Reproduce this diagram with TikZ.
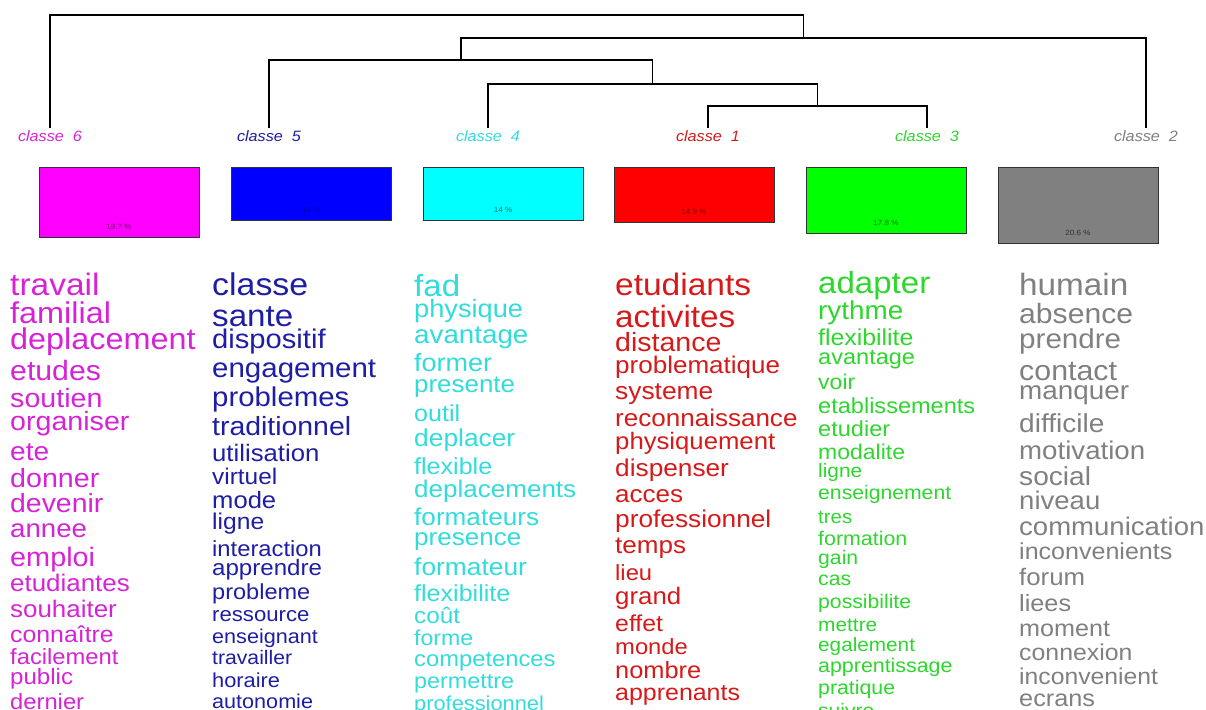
\documentclass[tikz,border=0pt]{standalone}
\usepackage{fontspec}
\setmainfont[FakeStretch=1.08]{Liberation Sans}
\usetikzlibrary{positioning}

% box fills and word colours, one per class
\definecolor{c6}{RGB}{255,0,255}
\definecolor{c5}{RGB}{0,0,255}
\definecolor{c4}{RGB}{0,255,255}
\definecolor{c1}{RGB}{255,0,0}
\definecolor{c3}{RGB}{0,255,0}
\definecolor{c2}{RGB}{128,128,128}
\definecolor{w6}{RGB}{215,35,215}
\definecolor{w5}{RGB}{30,30,165}
\definecolor{w4}{RGB}{50,220,220}
\definecolor{w1}{RGB}{215,25,25}
\definecolor{w3}{RGB}{45,215,45}
\definecolor{w2}{RGB}{128,128,128}

\tikzset{
  leg/.style={line width=1.2pt},
  lbl/.style={font=\fontsize{15}{15}\selectfont\itshape, inner sep=0pt},
  bar/.style={draw=black!80, line width=0.9pt, fill=#1, minimum width=160pt, anchor=north, inner sep=0pt},
  pct/.style={font=\fontsize{7.5}{8}\selectfont, inner sep=0pt},
  word/.style={anchor=base west, inner sep=0pt}
}

\begin{document}
\begin{tikzpicture}[x=1pt,y=-1pt]
  \fill[white] (0,0) rectangle (1206,709);
  \clip (0,0) rectangle (1206,709);

  % leaf tops of the tree
  \coordinate (t6) at (50,128);
  \coordinate (t5) at (269,128);
  \coordinate (t4) at (488,128);
  \coordinate (t1) at (708,128);
  \coordinate (t3) at (927,128);
  \coordinate (t2) at (1146,128);

  % merge heights
  \coordinate (n13) at (817.5,106);
  \coordinate (n413) at (652.75,84);
  \coordinate (n5) at (461,60);
  \coordinate (n2) at (803.5,38);
  \coordinate (root) at (426.75,15);

  % dendrogram
  \draw[leg] (t1) |- (n13) -| (t3);
  \draw[leg] (t4) |- (n413) -| (n13);
  \draw[leg] (t5) |- (n5) -| (n413);
  \draw[leg] (n5) |- (n2) -| (t2);
  \draw[leg] (t6) |- (root) -| (n2);

  % class names
  \node[lbl, text=w6, below=2pt of t6] (l6) {classe\ \ 6};
  \node[lbl, text=w5, below=2pt of t5] (l5) {classe\ \ 5};
  \node[lbl, text=w4, below=2pt of t4] (l4) {classe\ \ 4};
  \node[lbl, text=w1, below=2pt of t1] (l1) {classe\ \ 1};
  \node[lbl, text=w3, below=2pt of t3] (l3) {classe\ \ 3};
  \node[lbl, text=w2, below=2pt of t2] (l2) {classe\ \ 2};

  % class sizes
  \node[bar=c6, minimum height=70pt] (b6) at (119,167) {};
  \node[bar=c5, minimum height=53pt] (b5) at (311,167) {};
  \node[bar=c4, minimum height=53pt] (b4) at (503,167) {};
  \node[bar=c1, minimum height=55pt] (b1) at (694,167) {};
  \node[bar=c3, minimum height=66pt] (b3) at (886,167) {};
  \node[bar=c2, minimum height=76pt] (b2) at (1078,167) {};
  \node[pct, text=c6!45!black, above=8pt of b6.south] (p6) {18.7 \%};
  \node[pct, text=c5!55!black, above=8pt of b5.south] (p5) {14 \%};
  \node[pct, text=c4!45!black, above=8pt of b4.south] (p4) {14 \%};
  \node[pct, text=c1!45!black, above=8pt of b1.south] (p1) {14.9 \%};
  \node[pct, text=c3!45!black, above=8pt of b3.south] (p3) {17.8 \%};
  \node[pct, text=c2!40!black, above=8pt of b2.south] (p2) {20.6 \%};

  % classe 6 words
  \foreach \w/\s/\y [count=\i] in {travail/31/295, familial/30/323, deplacement/30/349,
      etudes/28/380, soutien/26.5/407, organiser/26.5/430, ete/26/460, donner/26.5/487,
      devenir/26.3/512, annee/25.6/537, emploi/26.7/566, etudiantes/24/591,
      souhaiter/24/617, connaître/23/642, facilement/22/664, public/22.3/684, dernier/22/709}
    \node[word, text=w6, font=\fontsize{\s}{\s}\selectfont] (w6-\i) at (10,\y) {\w};

  % classe 5 words
  \foreach \w/\s/\y [count=\i] in {classe/31.4/295, sante/30.7/326, dispositif/27/348,
      engagement/27.3/377, problemes/27.2/406, traditionnel/26.3/435, utilisation/23.8/461,
      virtuel/22.6/484, mode/23.7/508, ligne/22.8/529, interaction/22/556, apprendre/22.3/575,
      probleme/21.8/599, ressource/20.5/621, enseignant/20/643, travailler/19.6/664,
      horaire/20.2/687, autonomie/20/708}
    \node[word, text=w5, font=\fontsize{\s}{\s}\selectfont] (w5-\i) at (212,\y) {\w};

  % classe 4 words
  \foreach \w/\s/\y [count=\i] in {fad/30.6/296, physique/25.2/317, avantage/25.7/343,
      former/25/371, presente/24/392, outil/23.2/421, deplacer/24.4/446, flexible/23.2/474,
      deplacements/24.1/497, formateurs/24.2/525, presence/24.1/545, formateur/24.4/575,
      flexibilite/23.2/601, coût/22.5/623, forme/21.4/645, competences/22/666,
      permettre/21.6/688, professionnel/20.2/710}
    \node[word, text=w4, font=\fontsize{\s}{\s}\selectfont] (w4-\i) at (414,\y) {\w};

  % classe 1 words
  \foreach \w/\s/\y [count=\i] in {etudiants/31/295, activites/30.8/327, distance/26.4/351,
      problematique/24.1/373, systeme/24.4/399, reconnaissance/24.1/426, physiquement/23.8/449,
      dispenser/24.3/476, acces/24.1/502, professionnel/24.3/527, temps/24.1/553, lieu/22/580,
      grand/23.9/604, effet/23/631, monde/22/654, nombre/23.5/678, apprenants/23.1/700}
    \node[word, text=w1, font=\fontsize{\s}{\s}\selectfont] (w1-\i) at (615,\y) {\w};

  % classe 3 words
  \foreach \w/\s/\y [count=\i] in {adapter/30.6/293, rythme/25.8/319, flexibilite/23/345,
      avantage/21.8/364, voir/21.3/389, etablissements/21.8/413, etudier/21.8/436,
      modalite/21.3/459, ligne/19.3/477, enseignement/19.6/499, tres/18.9/523,
      formation/19.8/545, gain/19.6/564, cas/19.6/585, possibilite/19.6/608, mettre/19.3/631,
      egalement/19.2/651, apprentissage/19.8/672, pratique/19.7/694, suivre/19.5/717}
    \node[word, text=w3, font=\fontsize{\s}{\s}\selectfont] (w3-\i) at (818,\y) {\w};

  % classe 2 words
  \foreach \w/\s/\y [count=\i] in {humain/30.8/295, absence/27.9/323, prendre/27.4/348,
      contact/28.1/380, manquer/25.8/399, difficile/26/432, motivation/25.6/459, social/26/485,
      niveau/25.5/509, communication/25.5/535, inconvenients/23.2/559, forum/23.9/585,
      liees/23.4/611, moment/23.3/636, connexion/23/660, inconvenient/22.9/684, ecrans/23.4/706}
    \node[word, text=w2, font=\fontsize{\s}{\s}\selectfont] (w2-\i) at (1019,\y) {\w};
\end{tikzpicture}
\end{document}
